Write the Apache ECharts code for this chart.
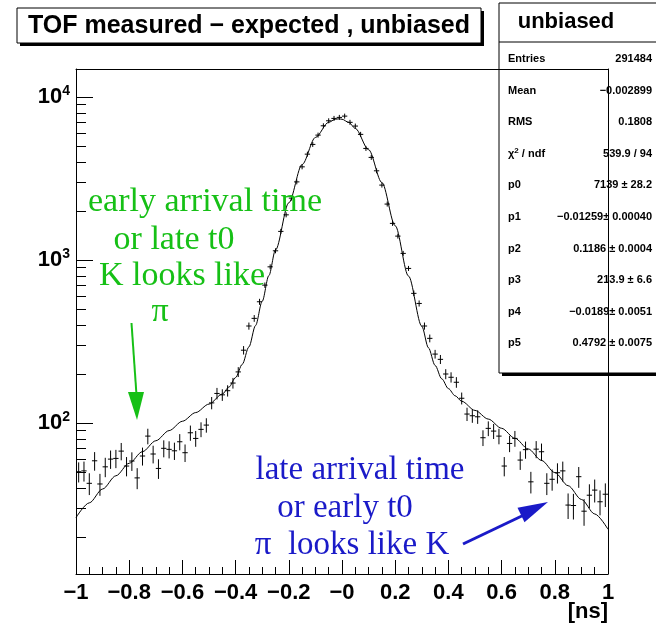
<!DOCTYPE html>
<html><head><meta charset="utf-8">
<script src="https://cdn.jsdelivr.net/npm/echarts@6/dist/echarts.min.js"></script>
<style>html,body{margin:0;padding:0;background:#fff}#c{width:656px;height:628px}</style>
</head><body><div id="c"></div>
<script>
// ---- data ----
const binCenters = [-0.99,-0.97,-0.95,-0.93,-0.91,-0.89,-0.87,-0.85,-0.83,-0.81,
  -0.79,-0.77,-0.75,-0.73,-0.71,-0.69,-0.67,-0.65,-0.63,-0.61,
  -0.59,-0.57,-0.55,-0.53,-0.51,-0.49,-0.47,-0.45,-0.43,-0.41,
  -0.39,-0.37,-0.35,-0.33,-0.31,-0.29,-0.27,-0.25,-0.23,-0.21,
  -0.19,-0.17,-0.15,-0.13,-0.11,-0.09,-0.07,-0.05,-0.03,-0.01,
  0.01,0.03,0.05,0.07,0.09,0.11,0.13,0.15,0.17,0.19,
  0.21,0.23,0.25,0.27,0.29,0.31,0.33,0.35,0.37,0.39,
  0.41,0.43,0.45,0.47,0.49,0.51,0.53,0.55,0.57,0.59,
  0.61,0.63,0.65,0.67,0.69,0.71,0.73,0.75,0.77,0.79,
  0.81,0.83,0.85,0.87,0.89,0.91,0.93,0.95,0.97,0.99];
const binCounts = [50.3,50.9,42.7,58.7,42.3,53.9,60.1,60.7,67.3,54.5,
  58.5,46.1,62.8,83.2,64.6,52.7,70.0,69.0,67.6,76.8,
  65.8,87.2,80.5,91.5,97.2,133,152,149,158,176,
  206,280,394,439,555,702,909,1140,1500,1895,
  2400,3018,3733,4466,5124,5843,6666,7155,7398,7505,
  7643,7000,6640,5906,4842,4266,3530,2884,2206,1679,
  1403,1099,889,625,542,394,331,265,246,200,
  191,178,142,113.6,110.9,109.3,81.3,92.8,89.3,83.2,
  54.5,75,80.5,59.3,68.7,43.6,69.2,66.7,42.7,45.2,
  49.6,50.9,31.4,31.2,46.9,28.8,36.1,38.8,32.9,36.6];
const fitX = [-1,-0.95,-0.9,-0.85,-0.8,-0.75,-0.7,-0.65,-0.6,-0.55,-0.5,-0.45,-0.425,-0.4,-0.375,-0.35,-0.325,-0.3,-0.275,-0.25,-0.2,-0.15,-0.1,-0.05,-0.025,-0.0125,0,0.025,0.05,0.1,0.15,0.2,0.25,0.3,0.325,0.35,0.375,0.4,0.425,0.45,0.5,0.55,0.6,0.65,0.7,0.75,0.8,0.85,0.9,0.95,1];
const fitY = [26.3,32.4,39.4,47.5,56.7,66.8,77.9,89.9,102.6,116.0,130.8,150.7,166.3,190.3,229.3,293.3,396.7,558.8,802.7,1153,2247,3855,5652,7006,7314,7353,7313,7002,6423,4756,2990,1625,798,392.8,289.5,225.8,186.9,162.8,147.2,136.1,119.6,105.8,92.9,80.7,69.4,59.0,49.7,41.3,34.0,27.7,22.3];
const xTickLabels = ['\u22121','\u22120.8','\u22120.6','\u22120.4','\u22120.2','\u22120','0.2','0.4','0.6','0.8','1'];
const yMajorTicks = [100,1000,10000];
const yMinorTicks = [20,30,40,50,60,70,80,90,200,300,400,500,600,700,800,900,2000,3000,4000,5000,6000,7000,8000,9000];
const statNames = ['Entries','Mean','RMS','{n|\u03c7}{s|2}{n| / ndf}','p0','p1','p2','p3','p4','p5'];
const statValues = ['291484','\u22120.002899','0.1808','539.9 / 94','7139 \u00b1 28.2','\u22120.01259\u00b1 0.00040','0.1186 \u00b1 0.0004','213.9 \u00b1 6.6','\u22120.0189\u00b1 0.0051','0.4792 \u00b1 0.0075'];
const titleText = 'TOF measured \u2212 expected , unbiased';
const statTitle = 'unbiased';
const greenLines = ['early arrival time','or late t0','K looks like','\u03c0'];
const blueLines = ['late arrival time','or early t0','\u03c0  looks like K'];

// ---- chart ----
const SANS = '"Liberation Sans", Arial, Helvetica, sans-serif';
const SERIF = '"Liberation Serif", "Times New Roman", serif';
const chart = echarts.init(document.getElementById('c'), null, {renderer:'canvas'});
const pts = binCenters.map((x,i)=>[x, binCounts[i], Math.sqrt(binCounts[i])]);
const fit = fitX.map((x,i)=>[x, fitY[i]]);
const YMIN = 11.86, YMAX = 14870;

const graphics = [];
// title box
graphics.push({type:'rect', z:1, shape:{x:20,y:11,width:464,height:35}, style:{fill:'#000'}});
graphics.push({type:'rect', z:1, shape:{x:17,y:8,width:464,height:35}, style:{fill:'#fff',stroke:'#000',lineWidth:1}});
graphics.push({type:'text', z:2, x:249, y:26, style:{text:titleText, fill:'#000', font:'bold 25px '+SANS, align:'center', verticalAlign:'middle'}});
// stats box
graphics.push({type:'rect', z:1, shape:{x:502,y:6,width:160,height:370}, style:{fill:'#000'}});
graphics.push({type:'rect', z:1, shape:{x:499,y:3,width:160,height:370}, style:{fill:'#fff',stroke:'#000',lineWidth:1}});
graphics.push({type:'line', z:2, shape:{x1:499,y1:42,x2:660,y2:42}, style:{stroke:'#000',lineWidth:1}});
graphics.push({type:'text', z:2, x:566, y:22, style:{text:statTitle, fill:'#000', font:'bold 22px '+SANS, align:'center', verticalAlign:'middle'}});
statNames.forEach((n,i)=>{
  const y = 59 + i*31.6;
  graphics.push({type:'text', z:2, x:508, y:y, style:{text:n, fill:'#000', font:'bold 11px '+SANS, align:'left', verticalAlign:'middle',
    rich:{n:{font:'bold 11px '+SANS, fill:'#000'}, s:{font:'bold 8px '+SANS, fill:'#000', verticalAlign:'top', padding:[0,0,6,0]}}}});
  graphics.push({type:'text', z:2, x:652, y:y, style:{text:statValues[i], fill:'#000', font:'bold 11px '+SANS, align:'right', verticalAlign:'middle'}});
});
// green annotation
const gCenters = [205,174,182,160], gY = [202,240,276,312];
greenLines.forEach((t,i)=>graphics.push({type:'text', z:10, x:gCenters[i], y:gY[i], style:{text:t, fill:'#16c016', font:'34px '+SERIF, align:'center', verticalAlign:'middle'}}));
graphics.push({type:'polyline', z:10, shape:{points:[[131.5,323],[136.5,395]]}, style:{stroke:'#16c016', lineWidth:2}});
graphics.push({type:'polygon', z:10, shape:{points:[[128,392],[144,392],[137,420]]}, style:{fill:'#16c016'}});
// blue annotation
const bCenters = [360,345,352], bY = [470,508,545];
blueLines.forEach((t,i)=>graphics.push({type:'text', z:10, x:bCenters[i], y:bY[i], style:{text:t, fill:'#1a1ac8', font:'33px '+SERIF, align:'center', verticalAlign:'middle'}}));
graphics.push({type:'polyline', z:10, shape:{points:[[463,544],[526,514]]}, style:{stroke:'#1a1ac8', lineWidth:3}});
graphics.push({type:'polygon', z:10, shape:{points:[[548,502],[517.5,507.8],[524.5,522.2]]}, style:{fill:'#1a1ac8'}});
// x axis title
graphics.push({type:'text', z:10, x:608, y:612, style:{text:'[ns]', fill:'#000', font:'bold 22px '+SANS, align:'right', verticalAlign:'middle'}});

const option = {
  animation:false,
  backgroundColor:'#fff',
  grid:{left:76, right:48, top:69, bottom:54, containLabel:false},
  xAxis:[{
    type:'value', min:-1, max:1, interval:0.2, position:'bottom', z:5,
    axisLine:{show:true, onZero:false, lineStyle:{color:'#000', width:1}},
    axisTick:{show:true, inside:true, length:14, lineStyle:{color:'#000'}},
    minorTick:{show:true, splitNumber:4, length:7, lineStyle:{color:'#000'}},
    splitLine:{show:false},
    axisLabel:{show:true, margin:8, color:'#000', fontFamily:SANS, fontWeight:'bold', fontSize:22,
      formatter:(v)=>{const i=Math.round((v+1)/0.2); return xTickLabels[i]!==undefined?xTickLabels[i]:'';}}
  },{
    type:'value', min:-1, max:1, position:'top', z:5,
    axisLine:{show:true, onZero:false, lineStyle:{color:'#000', width:1}},
    axisTick:{show:false}, axisLabel:{show:false}, splitLine:{show:false}
  }],
  yAxis:[{
    type:'log', min:YMIN, max:YMAX, position:'left', z:5,
    axisLine:{show:true, onZero:false, lineStyle:{color:'#000', width:1}},
    axisTick:{show:true, inside:true, length:17, customValues:yMajorTicks, lineStyle:{color:'#000'}},
    splitLine:{show:false},
    axisLabel:{show:true, customValues:yMajorTicks, margin:6, color:'#000',
      formatter:(v)=>'{b|10}{s|'+Math.round(Math.log10(v))+'}',
      rich:{b:{fontFamily:SANS, fontWeight:'bold', fontSize:22, color:'#000'},
            s:{fontFamily:SANS, fontWeight:'bold', fontSize:14, color:'#000', verticalAlign:'top', padding:[0,0,12,0]}}}
  },{
    type:'log', min:YMIN, max:YMAX, position:'left', z:5,
    axisLine:{show:false, onZero:false},
    axisTick:{show:true, inside:true, length:10, customValues:yMinorTicks, lineStyle:{color:'#000'}},
    axisLabel:{show:false}, splitLine:{show:false}
  },{
    type:'log', min:YMIN, max:YMAX, position:'right', z:5,
    axisLine:{show:true, onZero:false, lineStyle:{color:'#000', width:1}},
    axisTick:{show:false}, axisLabel:{show:false}, splitLine:{show:false}
  }],
  graphic:{elements:graphics},
  series:[{
    type:'line', name:'fit', data:fit, xAxisIndex:0, yAxisIndex:0, z:3,
    showSymbol:false, symbol:'none', smooth:0.3, smoothMonotone:'x',
    lineStyle:{color:'#000', width:1}
  },{
    type:'custom', name:'hist', data:pts, xAxisIndex:0, yAxisIndex:0, z:4,
    renderItem:(params, api)=>{
      const x=api.value(0), y=api.value(1), e=api.value(2);
      const p=api.coord([x,y]);
      const pl=api.coord([x-0.01,y]), pr=api.coord([x+0.01,y]);
      let pt=api.coord([x,y+e]), pb=api.coord([x,Math.max(y-e,1)]);
      let top=Math.min(pt[1], p[1]-2.5), bot=Math.max(pb[1], p[1]+2.5);
      return {type:'group', children:[
        {type:'line', shape:{x1:pl[0],y1:p[1],x2:pr[0],y2:p[1]}, style:{stroke:'#000',lineWidth:1}},
        {type:'line', shape:{x1:p[0],y1:top,x2:p[0],y2:bot}, style:{stroke:'#000',lineWidth:1}}
      ]};
    }
  }]
};
chart.setOption(option);
</script>
</body></html>
